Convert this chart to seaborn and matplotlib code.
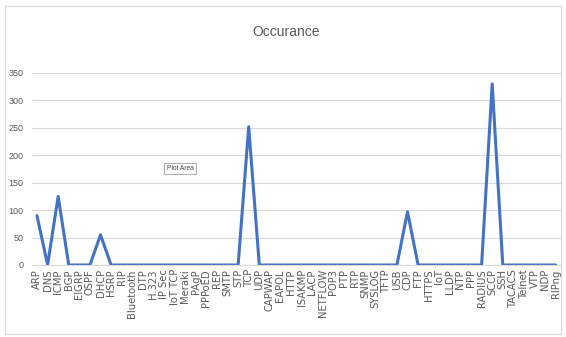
import matplotlib
matplotlib.use("Agg")
import matplotlib.pyplot as plt
import seaborn as sns
import pandas as pd

protocols = ["ARP", "DNS", "ICMP", "BGP", "EIGRP", "OSPF", "DHCP", "HSRP", "RIP",
             "Bluetooth", "DTP", "H.323", "IP Sec", "IoT TCP", "Meraki", "PAgP",
             "PPPoED", "REP", "SMTP", "STP", "TCP", "UDP", "CAPWAP", "EAPOL", "HTTP",
             "ISAKMP", "LACP", "NETFLOW", "POP3", "PTP", "RTP", "SNMP", "SYSLOG",
             "TFTP", "USB", "CDP", "FTP", "HTTPS", "IoT", "LLDP", "NTP", "PPP",
             "RADIUS", "SCCP", "SSH", "TACACS", "Telnet", "VTP", "NDP", "RIPng"]
occurrences = [90, 0, 125, 0, 0, 0, 55, 0, 0,
               0, 0, 0, 0, 0, 0, 0,
               0, 0, 0, 0, 252, 0, 0, 0, 0,
               0, 0, 0, 0, 0, 0, 0, 0,
               0, 0, 97, 0, 0, 0, 0, 0, 0,
               0, 330, 0, 0, 0, 0, 0, 0]
y_ticks = [0, 50, 100, 150, 200, 250, 300, 350]

sns.set_theme(style="white")
plt.rcParams["font.family"] = ["Liberation Sans", "DejaVu Sans"]

df = pd.DataFrame({"pos": range(len(protocols)), "count": occurrences})

fig = plt.figure(figsize=(5.66, 3.37), dpi=100)
fig.patch.set_facecolor("white")
# light frame round the chart
fig.add_artist(plt.Rectangle((5 / 566, 3 / 337), 556 / 566, 328 / 337,
                             transform=fig.transFigure, fill=False,
                             edgecolor="#D9D9D9", linewidth=0.8))

ax = fig.add_axes([31.7 / 566, 1 - 265 / 337, (561 - 31.7) / 566, (265 - 73) / 337])
sns.lineplot(data=df, x="pos", y="count", ax=ax, color="#4472C4",
             linewidth=2.2, sort=False)

ax.set_xlim(-0.5, len(protocols) - 0.5)
ax.set_ylim(0, 350)
ax.set_yticks(y_ticks)
ax.set_yticklabels([str(v) for v in y_ticks], fontsize=6.5, color="#595959")
ax.set_xticks(range(len(protocols)))
ax.set_xticklabels(protocols, rotation=90, fontsize=7.2, color="#595959",
                   family="DejaVu Sans")
ax.tick_params(axis="x", length=0, pad=3)
ax.tick_params(axis="y", length=0, pad=6)
ax.grid(axis="y", color="#D9D9D9", linewidth=0.8)
ax.set_axisbelow(True)
for side in ["top", "right", "left"]:
    ax.spines[side].set_visible(False)
ax.spines["bottom"].set_color("#D9D9D9")
ax.spines["bottom"].set_linewidth(0.8)
ax.set_xlabel("")
ax.set_ylabel("")

fig.text(286 / 566, 1 - 32 / 337, "Occurance", ha="center", va="center",
         fontsize=10, color="#595959")

ax.text(13.5, 176, "Plot Area", ha="center", va="center", fontsize=4.8,
        color="#404040",
        bbox=dict(boxstyle="square,pad=0.35", facecolor="white",
                  edgecolor="#A0A0A0", linewidth=0.6))

fig.savefig("out.png", dpi=100)
